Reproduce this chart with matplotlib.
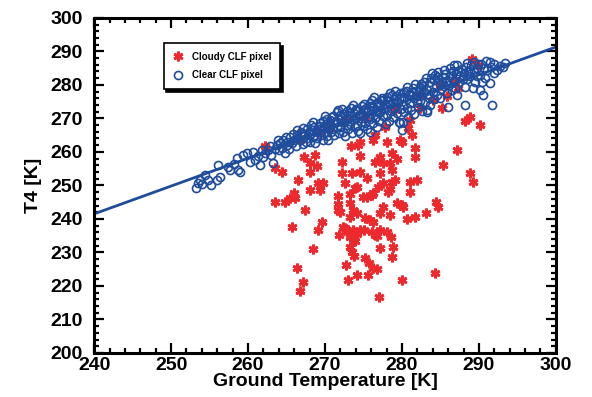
import numpy as np
import matplotlib
matplotlib.use("Agg")
import matplotlib.pyplot as plt
from matplotlib.ticker import MultipleLocator

# cloudy CLF pixels (ground temperature, T4)
cloudy_pts = [
    (262.2, 261.8), (267.3, 258.5), (268.7, 259.1), (268.1, 256.7), (269.0, 255.8),
    (272.2, 257.0), (273.4, 261.8), (274.3, 262.1), (274.5, 258.8), (276.2, 263.6),
    (276.5, 257.0), (277.1, 258.5), (277.5, 256.7), (278.7, 259.7), (278.1, 263.0),
    (280.0, 263.0), (281.3, 265.1), (281.7, 261.2), (281.7, 258.5), (263.5, 255.2),
    (264.4, 254.0), (266.5, 251.6), (268.1, 254.0), (269.1, 250.7), (268.1, 248.7),
    (269.4, 248.7), (266.0, 247.8), (266.1, 246.3), (263.5, 245.1), (264.8, 245.1),
    (267.4, 242.7), (269.6, 239.1), (269.1, 236.7), (265.7, 237.6), (268.4, 231.0),
    (266.4, 225.4), (267.1, 221.2), (266.8, 218.5), (272.2, 253.7), (273.5, 253.7),
    (274.5, 254.0), (275.5, 252.2), (272.6, 250.7), (273.9, 249.3), (273.2, 247.5),
    (271.7, 246.9), (274.9, 246.6), (276.2, 247.8), (276.9, 249.6), (277.5, 250.7),
    (278.2, 248.1), (278.7, 251.0), (279.1, 251.6), (278.7, 254.6), (277.1, 253.7),
    (281.0, 251.0), (281.9, 251.6), (281.0, 248.1), (271.7, 244.5), (271.9, 242.1),
    (273.2, 244.8), (273.6, 242.7), (273.2, 240.6), (274.2, 241.8), (275.2, 240.3),
    (275.8, 239.7), (276.2, 239.1), (277.1, 241.8), (277.5, 243.6), (278.4, 241.2),
    (279.4, 244.8), (280.1, 243.6), (280.6, 240.0), (281.7, 240.6), (283.1, 241.8),
    (284.4, 245.1), (284.7, 243.6), (272.3, 237.6), (271.8, 235.2), (272.9, 236.1),
    (273.2, 234.6), (273.6, 236.7), (274.2, 235.5), (273.9, 233.4), (274.5, 236.7),
    (276.1, 236.1), (276.8, 234.9), (277.1, 236.7), (278.1, 236.1), (278.6, 234.6),
    (273.2, 231.6), (273.5, 230.1), (273.8, 229.0), (275.2, 228.4), (275.7, 226.9),
    (276.2, 225.4), (277.1, 231.3), (278.8, 231.6), (278.7, 228.7), (272.7, 226.3),
    (273.0, 221.8), (274.2, 223.3), (275.6, 223.3), (276.8, 225.1), (277.0, 216.7),
    (280.0, 221.8), (284.3, 223.9), (289.1, 287.8), (289.9, 286.0), (282.3, 273.1),
    (285.2, 273.1), (288.2, 269.3), (288.8, 270.4), (290.1, 268.1), (287.1, 260.6),
    (285.3, 256.1), (288.8, 253.7), (289.2, 251.0), (284.0, 275.5), (285.8, 276.7),
    (287.3, 279.1), (281.0, 269.6), (277.8, 267.5), (279.7, 263.6), (280.8, 267.2),
    (276.5, 265.1), (274.5, 263.0), (278.4, 256.7), (279.4, 258.0), (276.1, 247.2),
    (278.4, 249.0), (280.0, 244.2), (275.1, 236.7), (272.6, 237.3), (271.7, 242.7),
    (276.5, 235.2), (275.5, 246.6), (274.2, 249.6), (269.7, 250.7), (265.5, 246.3),
    (270.6, 267.2), (272.6, 269.6), (275.2, 270.1), (279.1, 272.5), (282.3, 277.0),
    (284.9, 280.0), (286.9, 281.5), (266.8, 263.6), (269.4, 266.0),
]

# clear CLF pixels (ground temperature, T4)
clear_pts = [
    (253.3, 249.3), (253.5, 250.6), (253.8, 251.5), (254.0, 250.4), (254.4, 253.1),
    (254.8, 251.6), (255.2, 250.2), (256.0, 251.6), (256.4, 252.4), (256.1, 256.1),
    (257.4, 255.5), (257.7, 254.6), (258.2, 256.4), (258.7, 254.6), (259.0, 254.0),
    (258.6, 258.2), (259.4, 259.1), (259.9, 259.7), (260.3, 257.0), (260.6, 260.0),
    (260.9, 257.6), (261.3, 258.8), (261.6, 256.1), (262.0, 258.4), (262.2, 259.7),
    (262.6, 260.6), (263.0, 259.0), (263.2, 256.7), (263.5, 260.8), (263.8, 262.1),
    (264.0, 260.5), (264.2, 262.7), (264.4, 261.3), (264.6, 263.4), (264.8, 259.8),
    (265.0, 262.0), (265.1, 263.0), (265.3, 261.0), (265.5, 264.5), (265.7, 262.6),
    (266.0, 263.5), (266.2, 261.8), (266.4, 266.6), (266.5, 264.2), (266.8, 263.6),
    (267.0, 265.3), (267.1, 262.4), (267.3, 264.8), (267.5, 263.1), (267.7, 264.2),
    (267.9, 266.0), (268.0, 265.2), (268.1, 263.0), (268.3, 266.5), (268.4, 264.5),
    (268.6, 267.4), (268.7, 262.7), (268.9, 265.8), (269.0, 264.0), (269.2, 266.9),
    (269.4, 268.7), (269.5, 265.0), (269.7, 263.5), (269.9, 267.5), (270.0, 266.0),
    (270.1, 268.4), (270.3, 264.6), (270.4, 263.6), (270.5, 267.2), (270.7, 269.5),
    (270.8, 265.8), (270.9, 270.4), (271.0, 266.8), (271.2, 264.9), (271.3, 268.6),
    (271.5, 267.5), (271.6, 271.9), (271.7, 272.5), (271.8, 265.5), (271.9, 269.8),
    (272.0, 267.3), (272.1, 270.5), (272.3, 266.0), (272.4, 268.8), (272.5, 271.3),
    (272.6, 264.8), (272.7, 269.5), (272.8, 267.9), (272.9, 272.2), (273.0, 266.7),
    (273.1, 270.8), (273.3, 268.3), (273.4, 273.0), (273.5, 265.6), (273.7, 269.9),
    (273.8, 271.7), (273.9, 267.4), (274.0, 270.2), (274.1, 268.0), (274.2, 272.5),
    (274.3, 266.2), (274.5, 265.7), (274.6, 271.0), (274.7, 269.0), (274.8, 273.6),
    (274.9, 267.6), (275.0, 270.6), (275.1, 274.2), (275.2, 268.6), (275.4, 271.9),
    (275.5, 266.9), (275.6, 272.9), (275.8, 274.6), (275.8, 266.0), (275.9, 269.7),
    (276.0, 271.2), (276.1, 275.5), (276.2, 268.5), (276.3, 273.4), (276.5, 270.0),
    (276.6, 272.6), (276.7, 267.4), (276.8, 274.5), (276.9, 271.8), (277.0, 269.3),
    (277.1, 273.9), (277.3, 275.6), (277.4, 276.1), (277.5, 275.5), (277.6, 270.7),
    (277.7, 272.8), (277.9, 268.3), (278.0, 273.5), (278.1, 271.0), (278.2, 275.2),
    (278.3, 269.2), (278.5, 274.3), (278.6, 272.1), (278.7, 277.0), (278.8, 270.3),
    (278.9, 275.9), (279.0, 273.0), (279.2, 276.8), (279.3, 271.5), (279.5, 274.6),
    (279.6, 269.0), (279.7, 268.7), (279.8, 277.6), (279.9, 272.7), (280.0, 266.6),
    (280.1, 274.0), (280.1, 269.0), (280.2, 276.5), (280.3, 271.8), (280.5, 278.3),
    (280.6, 273.2), (280.7, 275.7), (280.8, 270.5), (281.0, 277.3), (281.1, 274.5),
    (281.2, 272.6), (281.4, 279.0), (281.5, 276.0), (281.6, 271.3), (281.8, 278.1),
    (281.9, 274.9), (282.0, 276.7), (282.1, 273.4), (282.3, 279.5), (282.4, 275.3),
    (282.5, 280.4), (282.6, 272.3), (282.8, 277.8), (282.9, 281.0), (283.0, 275.0),
    (283.2, 272.5), (283.2, 271.9), (283.3, 278.6), (283.5, 276.2), (283.6, 280.9),
    (283.7, 274.0), (283.9, 283.6), (284.0, 278.0), (284.1, 281.6), (284.2, 275.8),
    (284.4, 279.7), (284.5, 282.5), (284.6, 277.1), (284.7, 283.9), (284.9, 280.4),
    (285.0, 276.0), (285.1, 278.8), (285.3, 282.3), (285.4, 284.3), (285.5, 279.6),
    (285.7, 281.2), (285.9, 277.5), (286.0, 273.4), (286.1, 280.0), (286.2, 285.1),
    (286.3, 282.6), (286.5, 278.4), (286.6, 284.0), (286.8, 281.3), (286.9, 279.2),
    (287.0, 283.3), (287.1, 277.0), (287.2, 285.8), (287.4, 280.8), (287.6, 282.7),
    (287.8, 284.6), (288.0, 283.5), (288.2, 279.4), (288.2, 274.0), (288.3, 285.3),
    (288.5, 281.7), (288.6, 284.2), (288.8, 282.6), (289.0, 285.8), (289.2, 279.1),
    (289.3, 283.7), (289.5, 281.0), (289.7, 284.9), (289.9, 286.3), (290.1, 278.5),
    (290.2, 283.0), (290.4, 280.8), (290.5, 277.0), (290.6, 285.0), (290.8, 282.1),
    (291.0, 284.3), (291.4, 286.9), (291.4, 280.6), (291.7, 274.0), (291.9, 283.6),
    (292.3, 284.5), (293.1, 285.4), (293.4, 286.6),
    (266.3, 265.0), (266.9, 265.9), (267.6, 266.8), (268.2, 267.9), (268.8, 266.3),
    (269.3, 267.6), (269.8, 269.3), (270.2, 269.8), (270.6, 268.1), (271.1, 270.8),
    (271.4, 269.2), (271.9, 271.0), (272.2, 272.9), (272.8, 270.1), (273.2, 271.5),
    (273.6, 274.0), (274.0, 272.9), (274.4, 270.9), (274.9, 272.5), (275.3, 273.1),
    (275.7, 270.4), (276.0, 273.8), (276.4, 276.3), (276.9, 275.0), (277.2, 272.0),
    (277.8, 274.4), (278.1, 276.4), (278.4, 277.6), (278.8, 274.8), (279.1, 278.1),
    (279.4, 275.3), (279.9, 276.0), (280.3, 277.9), (280.6, 279.4), (280.9, 276.9),
    (281.3, 278.0), (281.7, 280.2), (282.2, 278.6), (282.7, 279.7), (283.1, 282.2),
    (283.4, 277.4), (283.8, 282.0), (284.3, 283.0), (284.8, 281.8), (285.2, 280.8),
    (285.6, 283.3), (286.4, 283.6), (286.7, 286.0), (287.3, 284.0), (287.9, 281.9),
    (288.4, 286.6), (288.9, 284.0), (289.4, 286.9), (289.8, 282.6), (290.3, 286.2),
    (290.9, 287.0), (291.6, 285.2), (292.0, 286.3), (292.7, 285.7), (267.2, 267.2),
    (268.5, 268.8), (270.0, 270.6), (265.9, 265.3), (264.9, 264.5), (263.9, 263.4),
    (262.9, 261.9), (261.8, 260.7),
]

# fitted line endpoints
fit_x = [240, 300]
fit_y = [241.5, 291.3]

blue = "#1f4c9c"
red = "#ec2a2e"

plt.rcParams['font.family'] = ['Liberation Sans', 'DejaVu Sans']
plt.rcParams['font.weight'] = 'bold'

cloudy = np.array(cloudy_pts)
clear = np.array(clear_pts)

fig = plt.figure(figsize=(5.92, 3.97), dpi=100)
ax = fig.add_axes([0.159, 0.111, 0.78, 0.844])

ax.plot(cloudy[:, 0], cloudy[:, 1], linestyle='none', marker=(6, 2, 0),
        markersize=7, markeredgewidth=2.0, color=red, label='Cloudy CLF pixel')
ax.plot(clear[:, 0], clear[:, 1], linestyle='none', marker='o',
        markersize=5.8, markerfacecolor='none', markeredgewidth=1.2,
        markeredgecolor=blue, label='Clear CLF pixel')
ax.plot(fit_x, fit_y, color=blue, linewidth=2.0)

ax.set_xlim(240, 300)
ax.set_ylim(200, 300)
ax.xaxis.set_major_locator(MultipleLocator(10))
ax.xaxis.set_minor_locator(MultipleLocator(2))
ax.yaxis.set_major_locator(MultipleLocator(10))
ax.yaxis.set_minor_locator(MultipleLocator(2))
ax.tick_params(which='both', direction='in', top=True, right=True,
               labelsize=14, width=1.6)
ax.tick_params(which='major', length=7)
ax.tick_params(which='minor', length=3.5)
ax.tick_params(axis='x', which='major', pad=3)
ax.tick_params(axis='y', which='major', pad=8)
for s in ax.spines.values():
    s.set_linewidth(2.2)

ax.set_xlabel('Ground Temperature [K]', fontsize=14, fontweight='bold', labelpad=-1)
ax.set_ylabel('T4 [K]', fontsize=14, fontweight='bold', labelpad=6)

leg = ax.legend(loc='upper left', bbox_to_anchor=(0.14, 0.94), fontsize=7,
                frameon=True, fancybox=False, shadow={'color': 'black', 'alpha': 1},
                edgecolor='black', handletextpad=0.8, borderpad=0.9,
                labelspacing=0.9, handlelength=1.2)
leg.get_frame().set_linewidth(1.2)
for t in leg.get_texts():
    t.set_fontweight('bold')

fig.savefig('out.png', dpi=100)
